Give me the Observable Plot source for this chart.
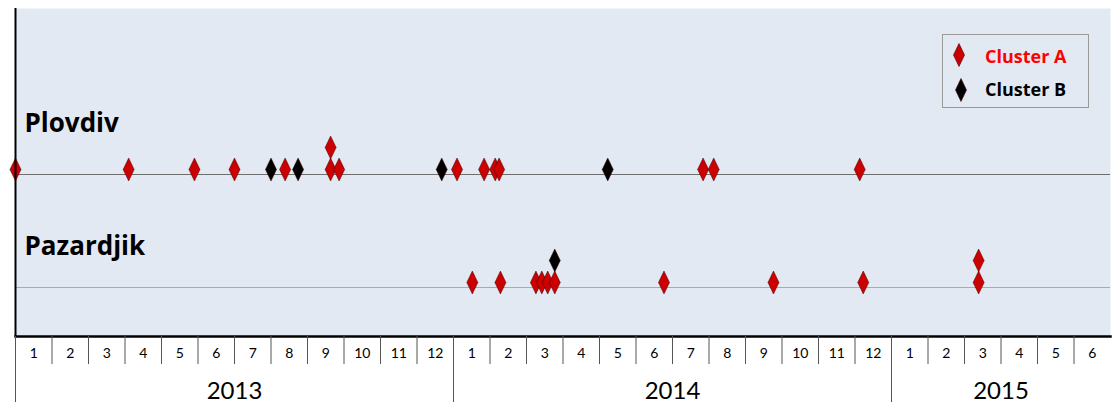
<!DOCTYPE html>
<html><head><meta charset="utf-8">
<script src="https://cdn.jsdelivr.net/npm/d3@7"></script>
<script src="https://cdn.jsdelivr.net/npm/@observablehq/plot@0.6"></script>
<style>
body{margin:0;background:#fff;}
#wrap{position:relative;width:1117px;height:404px;font-family:Lato,sans-serif;}
#wrap svg{display:block;}
#legend{position:absolute;left:942px;top:34px;width:147px;height:74px;border:1px solid #9a9a9a;box-sizing:border-box;}
#legend .sw{position:absolute;}
#legend .lab{position:absolute;font-family:"Open Sans",sans-serif;font-weight:bold;font-size:18px;line-height:18px;white-space:nowrap;}
</style></head><body><div id="wrap"></div>
<script>
const cities = ["Plovdiv", "Pazardjik"];
const clusters = ["Cluster A", "Cluster B"];
const clusterColors = ["#cc0000", "#000000"];
const legendTextColors = ["#ff0000", "#000000"];
const yearLabels = ["2013", "2014", "2015"];
const monthLabels = ["1","2","3","4","5","6","7","8","9","10","11","12",
                     "1","2","3","4","5","6","7","8","9","10","11","12",
                     "1","2","3","4","5","6"];

// Plovdiv events
const plovdivDates = ["2013-01-01","2013-04-04","2013-05-29","2013-07-01","2013-08-01","2013-08-13","2013-08-24",
  "2013-09-20","2013-09-20","2013-09-27","2013-12-22","2014-01-04","2014-01-27","2014-02-05","2014-02-08",
  "2014-05-08","2014-07-27","2014-08-05","2014-12-05"];
const plovdivClusters = ["Cluster A","Cluster A","Cluster A","Cluster A","Cluster B","Cluster A","Cluster B",
  "Cluster A","Cluster A","Cluster A","Cluster B","Cluster A","Cluster A","Cluster A","Cluster A",
  "Cluster B","Cluster A","Cluster A","Cluster A"];
const plovdivLevels = [0,0,0,0,0,0,0, 0,1,0,0,0,0,0,0, 0,0,0,0];

// Pazardjik events
const pazardjikDates = ["2014-01-17","2014-02-09","2014-03-09","2014-03-14","2014-03-19","2014-03-25","2014-03-25",
  "2014-06-24","2014-09-24","2014-12-08","2015-03-13","2015-03-13"];
const pazardjikClusters = ["Cluster A","Cluster A","Cluster A","Cluster A","Cluster A","Cluster A","Cluster B",
  "Cluster A","Cluster A","Cluster A","Cluster A","Cluster A"];
const pazardjikLevels = [0,0,0,0,0,0,1, 0,0,0,0,1];

// convert a date to a fractional month index from Jan 2013 (equal-width months)
function monthIndex(s) {
  const [y, m, d] = s.split("-").map(Number);
  const dim = new Date(Date.UTC(y, m, 0)).getUTCDate();
  return (y - 2013) * 12 + (m - 1) + (d - 1) / dim;
}
const events = [
  ...plovdivDates.map((d, i) => ({city: cities[0], t: monthIndex(d), cluster: plovdivClusters[i], level: plovdivLevels[i]})),
  ...pazardjikDates.map((d, i) => ({city: cities[1], t: monthIndex(d), cluster: pazardjikClusters[i], level: pazardjikLevels[i]}))
];

const tallDiamond = {
  draw(ctx, size) {
    const r = Math.sqrt(size / Math.PI), w = r * 0.48;
    ctx.moveTo(0, -r); ctx.lineTo(w, 0); ctx.lineTo(0, r); ctx.lineTo(-w, 0); ctx.closePath();
  }
};

const nMonths = monthLabels.length;
const monthBounds = d3.range(1, nMonths).filter(i => i % 12 !== 0);
const yearBounds = d3.range(0, nMonths, 12);
const monthMids = d3.range(nMonths).map(i => i + 0.5);
const yearMids = yearLabels.map((y, i) => (i * 12 + Math.min(nMonths, i * 12 + 12)) / 2);

const dotOpts = {x: "t", y: "city", symbol: tallDiamond, r: 11.5, fill: "cluster", stroke: "#3a0000", strokeWidth: 0.6, strokeOpacity: 0.8};
const cityFont = {textAnchor: "start", frameAnchor: "left", dx: 9, fontSize: 26, fontWeight: "bold", fill: "#000", fontFamily: "Open Sans, sans-serif"};

const chart = Plot.plot({
  width: 1117, height: 404,
  marginLeft: 15, marginRight: 7, marginTop: 8, marginBottom: 68,
  style: {fontFamily: "Lato, sans-serif", background: "transparent", color: "#000"},
  x: {domain: [0, nMonths], axis: null},
  y: {type: "point", domain: cities, range: [174, 287], padding: 0, axis: null},
  color: {domain: clusters, range: clusterColors},
  marks: [
    Plot.frame({fill: "#e3e9f3", stroke: null}),
    Plot.ruleY([cities[0]], {y: d => d, stroke: "#6e6e6e", strokeWidth: 1.2}),
    Plot.ruleY([cities[1]], {y: d => d, stroke: "#a6aab4", strokeWidth: 1.2}),
    Plot.text([cities[0]], {...cityFont, y: d => d, text: d => d, dy: -50.5}),
    Plot.text([cities[1]], {...cityFont, y: d => d, text: d => d, dy: -40.5}),
    Plot.dot(events.filter(e => e.level === 0), {...dotOpts, dy: -5}),
    Plot.dot(events.filter(e => e.level === 1), {...dotOpts, dy: -27}),
    Plot.frame({anchor: "bottom", stroke: "#000", strokeWidth: 2.5}),
    Plot.ruleX([0], {stroke: "#000", strokeWidth: 2}),
    Plot.axisX({ticks: monthBounds, anchor: "bottom", tickSize: 28, tickFormat: () => "", stroke: "#555", label: null}),
    Plot.axisX({ticks: yearBounds, anchor: "bottom", tickSize: 66, tickFormat: () => "", stroke: "#555", label: null}),
    Plot.axisX({ticks: monthMids, anchor: "bottom", tickSize: 0, tickPadding: 12, tickFormat: d => monthLabels[Math.floor(d)], fontSize: 14, fill: "#000", label: null}),
    Plot.axisX({ticks: yearMids, anchor: "bottom", tickSize: 0, tickPadding: 45, tickFormat: d => yearLabels[Math.floor(d / 12)], fontSize: 24, fill: "#000", label: null})
  ]
});

const wrap = document.getElementById("wrap");
wrap.appendChild(chart);

// legend
const legend = d3.select(wrap).append("div").attr("id", "legend");
clusters.forEach((c, i) => {
  const cy = i === 0 ? 20 : 55;
  const cx = i === 0 ? 16.3 : 17.7;
  legend.append("svg").attr("class", "sw").attr("width", 14).attr("height", 26)
    .style("left", (cx - 7) + "px").style("top", (cy - 13) + "px")
    .append("path").attr("d", "M7,1.5L12.5,13L7,24.5L1.5,13Z")
    .attr("fill", clusterColors[i]).attr("stroke", "#3a0000").attr("stroke-width", 0.6);
  legend.append("div").attr("class", "lab")
    .style("left", "42px").style("top", (i === 0 ? 11.7 : 45) + "px")
    .style("color", legendTextColors[i]).text(c);
});
</script></body></html>
